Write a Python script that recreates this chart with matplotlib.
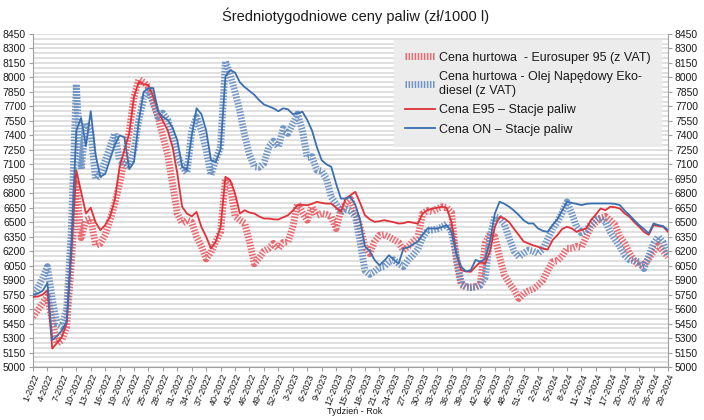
import matplotlib
matplotlib.use("Agg")
import matplotlib.pyplot as plt
import numpy as np
from matplotlib.ticker import FixedLocator

# ============================== DATA ==============================
YEARS_WEEKS = [(2022, 52), (2023, 52), (2024, 29)]

hurt_e95 = [
    5520, 5590, 5660, 5730, 5480, 5245, 5280, 5415, 6100, 6900,
    6340, 6520, 6540, 6260, 6280, 6370, 6520, 6690, 6900, 7140,
    7440, 7800, 7980, 7950, 7900, 7730, 7590, 7390, 7200, 6900,
    6590, 6490, 6520, 6500, 6350, 6250, 6120, 6190, 6300, 6400,
    6950, 6880, 6560, 6520, 6490, 6300, 6070, 6130, 6200, 6230,
    6280, 6227, 6290, 6296, 6450, 6693, 6600, 6521, 6659, 6572,
    6590, 6580, 6555, 6434, 6624, 6693, 6740, 6600, 6450, 6244,
    6175, 6300, 6365, 6370, 6348, 6320, 6290, 6210, 6250, 6300,
    6348, 6590, 6620, 6610, 6640, 6660, 6650, 6600, 6100, 5850,
    5830, 5830, 5830, 5860, 6280, 6380, 6350, 6140, 5950, 5870,
    5800, 5710, 5760, 5790, 5810, 5850, 5900, 6000, 6090, 6100,
    6150, 6230, 6230, 6250, 6240, 6350, 6450, 6500, 6540, 6560,
    6520, 6470, 6350, 6280, 6180, 6100, 6050, 6060, 6120, 6200,
    6260, 6200, 6140,
]

hurt_on = [
    5750, 5820, 5920, 6040, 5700, 5450, 5420, 5600, 6450, 7930,
    7050, 7530, 7450, 6950, 7000, 7140, 7280, 7420, 7140, 7110,
    7080, 7250, 7560, 7780, 7860, 7750, 7590, 7630, 7560, 7400,
    7200, 7080, 7010, 7450, 7590, 7450, 7250, 6990, 7150, 7280,
    8170, 8030, 7850, 7650, 7400, 7200, 7075, 7070, 7110, 7280,
    7340, 7280, 7470, 7420, 7520, 7620, 7450, 7170, 7180, 7040,
    7030, 6950, 6760, 6690, 6600, 6640, 6620, 6560, 6300, 6000,
    5960, 5990, 6030, 6040, 6090, 6110, 6070, 6040, 6110, 6160,
    6220, 6340, 6420, 6420, 6430, 6450, 6480, 6400, 6150, 5870,
    5830, 5823, 5830, 5847, 5930, 6350, 6556, 6540, 6480, 6330,
    6200, 6140, 6180, 6210, 6200, 6176, 6220, 6330, 6430, 6500,
    6600, 6710, 6590, 6453, 6390, 6418, 6480, 6530, 6540, 6504,
    6400, 6320, 6245, 6160, 6110, 6100, 6089, 6020, 6150, 6280,
    6350, 6290, 6160,
]

stacje_e95 = [
    5726, 5730, 5750, 5796, 5191, 5250, 5312, 5450, 6200, 7040,
    6815, 6590, 6650, 6500, 6418, 6470, 6556, 6729, 7074, 7247,
    7420, 7800, 7955, 7930, 7920, 7800, 7650, 7550, 7450, 7281,
    7005, 6659, 6590, 6560, 6607, 6451, 6350, 6227, 6300, 6451,
    6970, 6935, 6797, 6590, 6624, 6600, 6590, 6560, 6538, 6538,
    6530, 6528, 6550, 6572, 6620, 6676, 6680, 6676, 6690, 6711,
    6700, 6693, 6693, 6650, 6607, 6745, 6780, 6815, 6700, 6573,
    6530, 6504, 6510, 6521, 6510, 6500, 6486, 6490, 6504, 6495,
    6486, 6590, 6625, 6642, 6650, 6660, 6650, 6500, 6176, 6003,
    5990, 5986, 6040, 6089, 6072, 6200, 6453, 6556, 6539, 6500,
    6430, 6366, 6300, 6280, 6260, 6245, 6225, 6217, 6314, 6366,
    6430, 6453, 6435, 6400, 6420, 6435, 6522, 6580, 6642, 6625,
    6660, 6655, 6642, 6590, 6556, 6500, 6453, 6400, 6370, 6470,
    6460, 6453, 6400,
]

stacje_on = [
    5750, 5760, 5790, 5870, 5280, 5320, 5380, 5470, 6300, 7450,
    7580, 7290, 7650, 7200, 6970, 7000, 7150, 7300, 7400, 7380,
    7050, 7125, 7550, 7850, 7890, 7890, 7650, 7590, 7560, 7480,
    7350, 7075, 7040, 7400, 7680, 7620, 7450, 7143, 7125, 7260,
    8010, 8076, 8050, 7950, 7900, 7860, 7820, 7765, 7720, 7700,
    7680, 7650, 7680, 7670, 7620, 7627, 7645, 7560, 7450, 7280,
    7143, 7100, 7074, 6900, 6745, 6745, 6763, 6680, 6521, 6250,
    6200, 6110, 6054, 6100, 6158, 6110, 6071, 6227, 6240, 6270,
    6300, 6370, 6435, 6435, 6435, 6450, 6470, 6400, 6176, 6040,
    5990, 6003, 6110, 6089, 6124, 6300, 6590, 6712, 6690, 6660,
    6620, 6573, 6520, 6487, 6487, 6435, 6410, 6400, 6470, 6530,
    6620, 6712, 6700, 6690, 6677, 6690, 6694, 6694, 6694, 6694,
    6694, 6690, 6677, 6620, 6573, 6520, 6470, 6430, 6383, 6487,
    6470, 6460, 6418,
]

LABELS = [
    "Cena hurtowa  - Eurosuper 95 (z VAT)",
    "Cena hurtowa - Olej Napędowy Eko-\ndiesel (z VAT)",
    "Cena E95 \u2013 Stacje paliw",
    "Cena ON \u2013 Stacje paliw",
]

Y_MIN, Y_MAX = 5000, 8450

# ============================== STYLE ==============================
RED = "#e0313a"
BLUE = "#3a6fb0"
RED_HATCH = "#e8525a"
BLUE_HATCH = "#5b87c0"
GRID_COLOR = "#dadada"
TEXT_COLOR = "#1a1a1a"

plt.rcParams["font.family"] = ["Liberation Sans", "DejaVu Sans"]


def week_labels():
    labels = []
    for year, n in YEARS_WEEKS:
        for w in range(1, n + 1):
            labels.append(f"{w}-{year}")
    return labels


def main():
    labels = week_labels()
    x = np.arange(len(labels))

    fig = plt.figure(figsize=(7.04, 4.2), dpi=100)
    ax = fig.add_axes([33 / 704, 1 - 367 / 420, 635 / 704, 333 / 420])

    # hatched wholesale lines
    h1, = ax.plot(x, hurt_e95, color=RED_HATCH, lw=5, dashes=(0.22, 0.22),
                  dash_capstyle="butt", alpha=0.85, zorder=2)
    h2, = ax.plot(x, hurt_on, color=BLUE_HATCH, lw=5, dashes=(0.22, 0.22),
                  dash_capstyle="butt", alpha=0.85, zorder=2)
    h3, = ax.plot(x, stacje_e95, color=RED, lw=1.3, zorder=3)
    h4, = ax.plot(x, stacje_on, color=BLUE, lw=1.3, zorder=3)

    ax.set_xlim(0, len(labels) - 1)
    ax.set_ylim(Y_MIN, Y_MAX)
    ax.yaxis.set_major_locator(FixedLocator(np.arange(Y_MIN, Y_MAX + 1, 150)))
    ax.yaxis.set_minor_locator(FixedLocator(np.arange(Y_MIN, Y_MAX + 1, 50)))
    ax.grid(True, axis="y", which="both", color=GRID_COLOR, lw=1.2)
    ax.set_axisbelow(True)

    ax.set_xticks(x[::3])
    ax.set_xticklabels(labels[::3], rotation=68, ha="right",
                       rotation_mode="anchor", fontsize=6.6, color=TEXT_COLOR)
    ax.tick_params(axis="y", which="major", labelsize=7.5, labelcolor=TEXT_COLOR,
                   left=True, right=True, labelleft=True, labelright=True,
                   length=3, color="#a0a0a0", pad=2)
    ax.tick_params(axis="y", which="minor", left=False, right=False)
    ax.tick_params(axis="x", length=3, color="#a0a0a0", pad=1)

    for side in ("left", "right", "bottom"):
        ax.spines[side].set_color("#a0a0a0")
    ax.spines["top"].set_visible(False)

    fig.text(355 / 704, 1 - 412 / 420, "Tydzień - Rok", ha="center", va="center",
             fontsize=6.5, color=TEXT_COLOR)
    fig.text(0.505, 0.962, "Średniotygodniowe ceny paliw (zł/1000 l)",
             ha="center", va="center", fontsize=10.5, color=TEXT_COLOR)

    leg = fig.legend([h1, h2, h3, h4], LABELS, loc="upper right",
                     bbox_to_anchor=(668 / 704, 1 - 34 / 420),
                     fontsize=9, frameon=True, fancybox=False,
                     handlelength=2.4, labelspacing=0.6, borderpad=0.9,
                     handletextpad=0.3)
    leg.get_frame().set_facecolor("#ececec")
    leg.get_frame().set_edgecolor("none")
    leg.get_frame().set_alpha(1)
    for t in leg.get_texts():
        t.set_color(TEXT_COLOR)

    fig.savefig("out.png", dpi=100)
    plt.close(fig)


if __name__ == "__main__":
    main()
